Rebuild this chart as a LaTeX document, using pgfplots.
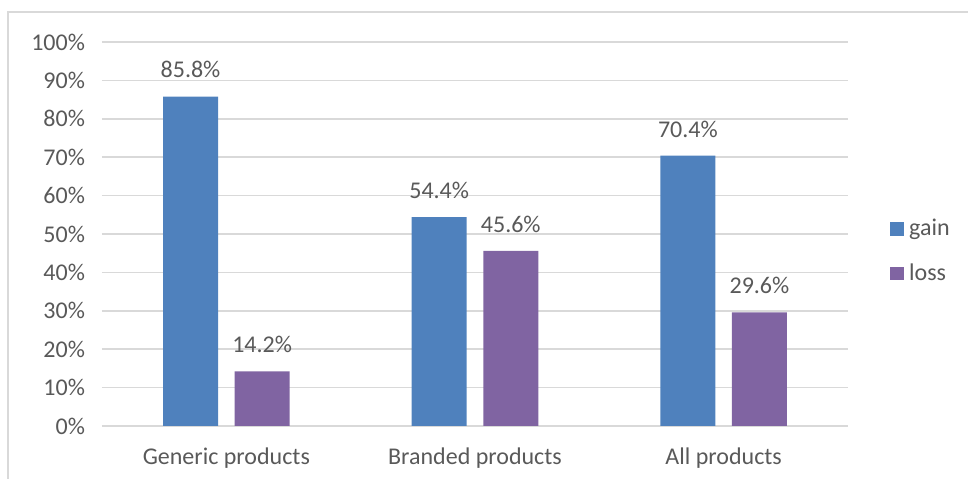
\documentclass[border=0pt]{standalone}
\usepackage{fontspec}
\setmainfont{Carlito}
\usepackage{pgfplots}
\pgfplotsset{compat=1.18}
\definecolor{gainc}{HTML}{4F81BD}
\definecolor{lossc}{HTML}{8064A2}
\definecolor{gridc}{HTML}{D9D9D9}
\definecolor{txt}{HTML}{595959}
\begin{document}
\begin{tikzpicture}
\useasboundingbox (-51bp,-26.5bp) rectangle (433bp,213bp);
\draw[gridc, line width=0.75bp] (-47bp,-30bp) -- (-47bp,207bp) -- (440bp,207bp);
\begin{axis}[
  at={(0,0)}, anchor=south west,
  scale only axis, width=373bp, height=192bp,
  ybar, bar width=27.5bp,
  xmin=-0.5, xmax=2.5, ymin=0, ymax=100,
  xtick={0,1,2}, xticklabels={Generic products,Branded products,All products},
  ytick={0,10,...,100},
  yticklabel={\pgfmathprintnumber{\tick}\%},
  /pgf/number format/assume math mode=true,
  major tick length=0pt,
  axis line style={draw=none},
  ymajorgrids, grid style={gridc, line width=0.75bp},
  axis on top=false,
  font=\fontsize{12bp}{14bp}\selectfont,
  tick label style={text=txt, font=\fontsize{12bp}{14bp}\selectfont},
  yticklabel style={anchor=east, xshift=-5bp},
  xticklabel style={anchor=north, yshift=-7.5bp},
  nodes near coords={\pgfmathprintnumber[fixed,precision=1,fixed zerofill]{\pgfplotspointmeta}\%},
  nodes near coords style={text=txt, font=\fontsize{12bp}{14bp}\selectfont, inner sep=0pt, anchor=south, yshift=9bp},
  legend style={at={(1.056,0.455)}, anchor=west, draw=none, fill=none, inner sep=0pt,
    font=\fontsize{12bp}{14bp}\selectfont, text=txt, row sep=12.5bp, column sep=0pt,
    nodes={inner sep=0pt, inner xsep=2.5bp}},
  legend cell align=left,
  legend image code/.code={\fill[#1] (0bp,-3.3bp) rectangle (7bp,3.3bp);},
]
\addplot[fill=gainc, draw=none, bar shift=-17.9bp] coordinates {(0,85.8) (1,54.4) (2,70.4)};
\addplot[fill=lossc, draw=none, bar shift=17.9bp] coordinates {(0,14.2) (1,45.6) (2,29.6)};
\legend{gain,loss}
\end{axis}
\end{tikzpicture}
\end{document}
